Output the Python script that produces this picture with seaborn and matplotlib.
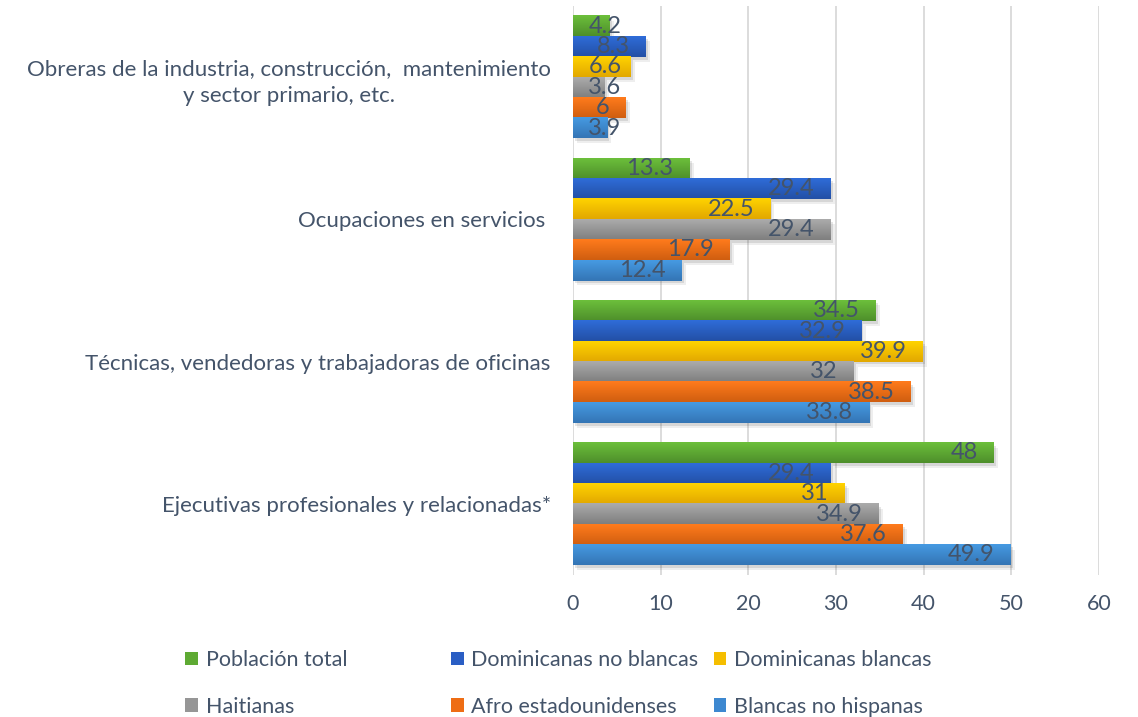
import numpy as np
import pandas as pd
import matplotlib.pyplot as plt
import matplotlib.patheffects as pe
from matplotlib.colors import to_rgb
from matplotlib.patches import Patch
import seaborn as sns

# Data
ocupaciones = [
    "Obreras de la industria, construcción,  mantenimiento\ny sector primario, etc.",
    "Ocupaciones en servicios ",
    "Técnicas, vendedoras y trabajadoras de oficinas",
    "Ejecutivas profesionales y relacionadas*",
]
grupos = ["Población total", "Dominicanas no blancas", "Dominicanas blancas",
          "Haitianas", "Afro estadounidenses", "Blancas no hispanas"]
poblacion_total = [4.2, 13.3, 34.5, 48]
dominicanas_no_blancas = [8.3, 29.4, 32.9, 29.4]
dominicanas_blancas = [6.6, 22.5, 39.9, 31]
haitianas = [3.6, 29.4, 32, 34.9]
afro_estadounidenses = [6, 17.9, 38.5, 37.6]
blancas_no_hispanas = [3.9, 12.4, 33.8, 49.9]

# colours: mid tone plus top/bottom of the Excel gradient
colores = ["#5EAA33", "#2A5EC4", "#F5BE00", "#969696", "#EE6D15", "#3D88D0"]
color_arriba = ["#6CBF3B", "#2F6CD8", "#FFD300", "#ABABAB", "#FF7B1C", "#469AE2"]
color_abajo = ["#4E8F2B", "#2350A6", "#E2A800", "#7F7F7F", "#D05E10", "#3475B5"]

series = [poblacion_total, dominicanas_no_blancas, dominicanas_blancas,
          haitianas, afro_estadounidenses, blancas_no_hispanas]
rows = []
for g, vals in zip(grupos, series):
    for o, v in zip(ocupaciones, vals):
        rows.append({"ocupacion": o, "grupo": g, "valor": v})
df = pd.DataFrame(rows)

sns.set_style("white")
plt.rcParams["font.family"] = ["Lato", "DejaVu Sans"]
text_color = "#44546A"

fig = plt.figure(figsize=(11.38, 7.17), dpi=100)
ax = fig.add_axes([0.5035, 0.198, 0.9657 - 0.5035, 0.9916 - 0.198])

sns.barplot(data=df, x="valor", y="ocupacion", hue="grupo", orient="h",
            order=ocupaciones, hue_order=grupos, palette=colores, saturation=1,
            width=0.86, gap=0, legend=False, ax=ax, errorbar=None, linewidth=0)

# soft drop shadow: two faint offset copies
shadow = [pe.SimplePatchShadow(offset=(3, -3.5), alpha=0.08, shadow_rgbFace="#303030"),
          pe.SimplePatchShadow(offset=(1.5, -2), alpha=0.12, shadow_rgbFace="#303030"),
          pe.Normal()]
for k, container in enumerate(ax.containers):
    top = np.array(to_rgb(color_arriba[k]))
    bottom = np.array(to_rgb(color_abajo[k]))
    grad = np.linspace(0, 1, 32)[:, None, None]
    img = (top * (1 - grad) + bottom * grad)
    for bar in container:
        bar.set_path_effects(shadow)
        bar.set_zorder(2)
        x0, y0, w, h = bar.get_x(), bar.get_y(), bar.get_width(), bar.get_height()
        ax.imshow(img, extent=(x0, x0 + w, y0 + h, y0), aspect="auto",
                  interpolation="bilinear", zorder=3)

# value labels (inside end, like Excel)
for container in ax.containers:
    for bar in container:
        v = bar.get_width()
        label = f"{v:g}"
        yc = bar.get_y() + bar.get_height() / 2
        if v < 7 and len(label) > 1:
            ax.annotate(label, (0, yc), xytext=(11, 0), textcoords="offset points",
                        ha="left", va="center", fontsize=17, color=text_color, zorder=5)
        else:
            ax.annotate(label, (v, yc), xytext=(-11.5, 0), textcoords="offset points",
                        ha="right", va="center", fontsize=17, color=text_color, zorder=5)

ax.set_xlim(0, 60)
ax.set_ylim(3.5, -0.5)
ax.set_xticks(range(0, 61, 10))
ax.xaxis.grid(True, color="#D9D9D9", linewidth=1.3, zorder=0)
ax.set_axisbelow(True)
ax.set_xlabel("")
ax.set_ylabel("")
for s in ax.spines.values():
    s.set_visible(False)
ax.tick_params(axis="x", length=0, pad=14, labelsize=15.5, labelcolor=text_color)
ax.tick_params(axis="y", length=0, pad=16, labelsize=16, labelcolor=text_color)
for t in ax.get_yticklabels():
    t.set_multialignment("center")
    t.set_linespacing(1.45)

# legend: three columns, two rows
handles = [Patch(facecolor=c, edgecolor="none") for c in colores]
col_x = [0.163, 0.396, 0.627]
for i, x in enumerate(col_x):
    idx = [i, i + 3]
    fig.legend([handles[j] for j in idx], [grupos[j] for j in idx],
               loc="upper left", bbox_to_anchor=(x, 1 - 650 / 717),
               frameon=False, fontsize=15.5, labelcolor=text_color,
               handlelength=0.6, handleheight=0.6, handletextpad=0.35,
               labelspacing=1.25, borderpad=0, borderaxespad=0)

fig.savefig("out.png", dpi=100)
